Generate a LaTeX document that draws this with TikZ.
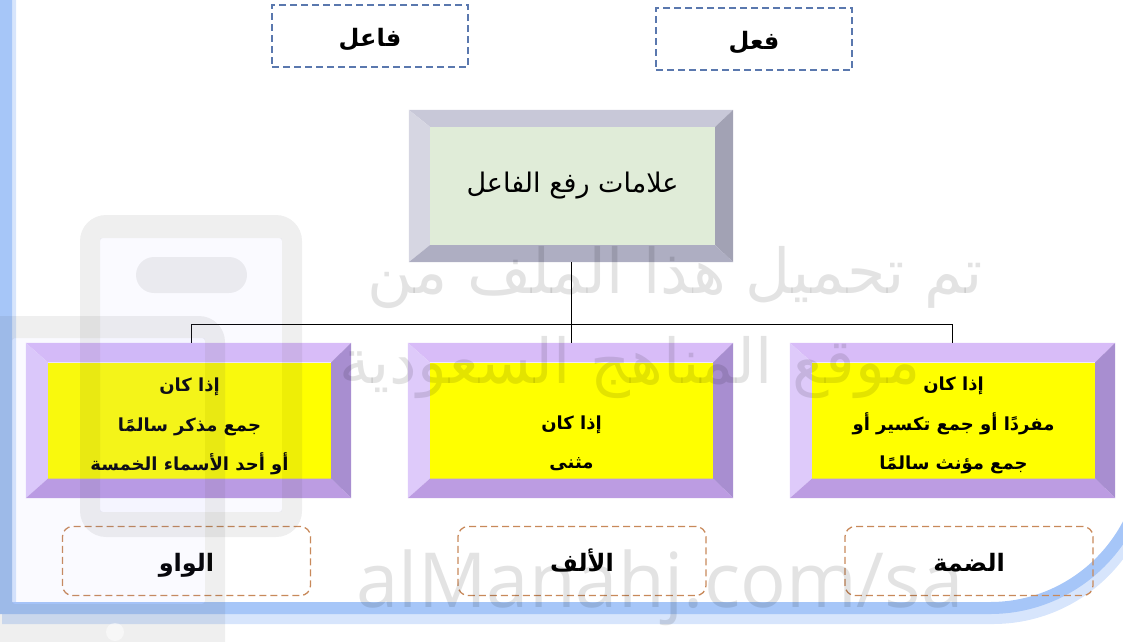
\documentclass[tikz,border=0pt]{standalone}
\usepackage{fontspec}
\usetikzlibrary{positioning}
\newfontfamily\arabicfont[Script=Arabic]{DejaVu Sans}
\newfontfamily\wmfont{Open Sans}
\TeXXeTstate=1
\newcommand\ar[1]{\beginR #1\endR}
\newcommand\lowar[1]{\raisebox{-10pt}[0pt][0pt]{\ar{#1}}}

\definecolor{frameblue}{HTML}{A6C6F8}
\definecolor{dashblue}{HTML}{5A78AE}
\definecolor{dashorange}{HTML}{C8895A}
\definecolor{coreface}{HTML}{E0ECD8}
\definecolor{coretop}{HTML}{C8C8D8}
\definecolor{coreleft}{HTML}{D6D6E2}
\definecolor{coreright}{HTML}{A2A2B4}
\definecolor{corebottom}{HTML}{AEAEC2}
\definecolor{faceyellow}{HTML}{FFFF00}
\definecolor{purpletop}{HTML}{D8BCF8}
\definecolor{purpleleft}{HTML}{DECAFA}
\definecolor{purpleright}{HTML}{A88ED0}
\definecolor{purplebottom}{HTML}{BC9CE2}

\tikzset{
  bluelabel/.style={draw=dashblue, line width=1.3pt, dash pattern=on 7pt off 4pt,
    minimum width=196pt, minimum height=62pt,
    font=\arabicfont\bfseries\fontsize{24}{28}\selectfont},
  orangelabel/.style={draw=dashorange, line width=1.3pt, dash pattern=on 7pt off 4pt,
    rounded corners=10pt, minimum width=248pt, minimum height=69pt,
    font=\arabicfont\bfseries\fontsize{24}{28}\selectfont},
  bevelout/.style={minimum width=325pt, minimum height=155pt, inner sep=0pt},
  yellowface/.style={fill=faceyellow, minimum width=283pt, minimum height=116pt,
    inner sep=0pt},
  facetext/.style={align=center, inner sep=0pt,
    font=\arabicfont\bfseries\fontsize{18}{39.5}\selectfont},
  greenface/.style={fill=coreface, minimum width=285pt, minimum height=118pt,
    inner sep=0pt, font=\arabicfont\fontsize{27}{30}\selectfont},
  wmark/.style={fill=black!70, fill opacity=0.09},
  wmtext/.style={text=black, text opacity=0.11, font=\arabicfont\fontsize{62}{66}\selectfont}
}

\begin{document}
\begin{tikzpicture}[x=1pt,y=-1pt]
\useasboundingbox (0,0) rectangle (1123,641);

% frame
\draw[frameblue!45, line width=14pt, shift={(3,9)}]
  (6,-30) -- (6,608) -- (990,608)
  .. controls (1076,608) and (1146,538) .. (1146,452) -- (1146,-30);
\draw[frameblue, line width=12pt]
  (6,-30) -- (6,608) -- (990,608)
  .. controls (1076,608) and (1146,538) .. (1146,452) -- (1146,-30);

% top labels
\node[bluelabel] (faail) at (370,36) {\lowar{فاعل}};
\node[bluelabel] (fiel) at (754,39) {\lowar{فعل}};

% central box
\node[bevelout, minimum width=324pt, minimum height=152pt] (core-out) at (571,186) {};
\node[greenface] (core) at (572.5,186) {\ar{علامات رفع الفاعل}};

% lower boxes
\foreach \Bx/\Xc/\Ys/\Texto in {
  waw/188.5/6/{\ar{إذا كان}\\\ar{جمع مذكر سالمًا}\\\ar{أو أحد الأسماء الخمسة}},
  alif/570.5/10/{\mbox{}\\\ar{إذا كان}\\\ar{مثنى}},
  damma/952.5/5/{\ar{إذا كان}\\\ar{مفردًا أو جمع تكسير أو}\\\ar{جمع مؤنث سالمًا}}}
{
  \node[bevelout] (\Bx-out) at (\Xc,420.5) {};
  \node[yellowface] (\Bx) at ([xshift=1pt]\Bx-out.center) {};
  \node[facetext] (\Bx-text) at ([yshift=-\Ys pt]\Bx.center) {\Texto};
}

\foreach \Bx/\Tc/\Lc/\Rc/\Dc in {core/coretop/coreleft/coreright/corebottom,
  waw/purpletop/purpleleft/purpleright/purplebottom,
  alif/purpletop/purpleleft/purpleright/purplebottom,
  damma/purpletop/purpleleft/purpleright/purplebottom}
{
  \fill[\Tc] (\Bx-out.north west) -- (\Bx-out.north east) -- (\Bx.north east) -- (\Bx.north west) -- cycle;
  \fill[\Lc] (\Bx-out.north west) -- (\Bx.north west) -- (\Bx.south west) -- (\Bx-out.south west) -- cycle;
  \fill[\Rc] (\Bx-out.north east) -- (\Bx-out.south east) -- (\Bx.south east) -- (\Bx.north east) -- cycle;
  \fill[\Dc] (\Bx-out.south west) -- (\Bx.south west) -- (\Bx.south east) -- (\Bx-out.south east) -- cycle;
}

% connectors
\coordinate (fork) at (571,324);
\draw[line width=1pt] (core-out.south) -- (fork);
\draw[line width=1pt] ([xshift=2.5pt]waw-out.north) |- (fork) -| (damma-out.north);
\draw[line width=1pt] (fork) -- ([xshift=0.5pt]alif-out.north);

% answers
\node[orangelabel] (wawans) at (186.5,561) {\lowar{الواو}};
\node[orangelabel] (alifans) at (582,561) {\lowar{الألف}};
\node[orangelabel] (dammaans) at (969,561) {\lowar{الضمة}};

% watermark
\fill[wmark, even odd rule] [rounded corners=26pt] (80,215) rectangle (302,537)
  [rounded corners=3pt] (100,238) rectangle (282,512);
\fill[wmark] [rounded corners=18pt] (136,257) rectangle (247,293);
\fill[blue!40, fill opacity=0.05] (100,238) rectangle (282,512);
\fill[wmark, even odd rule] [rounded corners=26pt] (-30,316) rectangle (225,670)
  [rounded corners=3pt] (12,338) rectangle (205,604);
\fill[blue!40, fill opacity=0.05] (12,338) rectangle (205,604);
\fill[white, fill opacity=0.5] (115,632) circle (9);
\node[wmtext] (wmtop) at (675,278) {\ar{تم تحميل هذا الملف من}};
\node[wmtext] (wmmid) at (630,368) {\ar{موقع المناهج السعودية}};
\node[wmtext, font=\wmfont\fontsize{76}{80}\selectfont] (wmurl) at (660,588) {alManahj.com/sa};
\end{tikzpicture}
\end{document}
